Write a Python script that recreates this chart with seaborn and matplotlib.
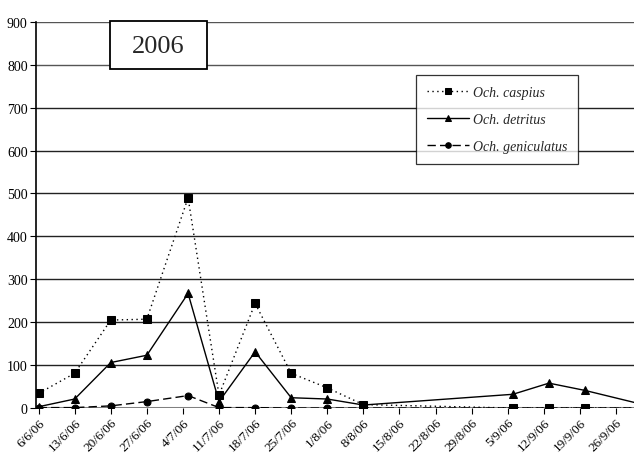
import matplotlib
matplotlib.use("Agg")
import matplotlib.pyplot as plt
import matplotlib.dates as mdates
from matplotlib.patches import Rectangle
import seaborn as sns
import pandas as pd

# Sampling dates (2006) and catches per species
dates = ["2006-06-06", "2006-06-13", "2006-06-20", "2006-06-27", "2006-07-05",
         "2006-07-11", "2006-07-18", "2006-07-25", "2006-08-01", "2006-08-08",
         "2006-09-06", "2006-09-13", "2006-09-20", "2006-10-04"]
caspius = [34, 81, 205, 207, 490, 30, 244, 81, 47, 8, 0, 0, 0, 0]
detritus = [3, 21, 106, 123, 267, 15, 131, 24, 21, 7, 32, 58, 41, 0]
geniculatus = [1, 1, 5, 15, 29, 1, 1, 0, 0, 0, 0, 0, 0, 0]

tick_dates = pd.date_range("2006-06-06", "2006-09-26", freq="7D")
tick_labels = ["6/6/06", "13/6/06", "20/6/06", "27/6/06", "4/7/06", "11/7/06",
               "18/7/06", "25/7/06", "1/8/06", "8/8/06", "15/8/06", "22/8/06",
               "29/8/06", "5/9/06", "12/9/06", "19/9/06", "26/9/06"]
y_ticks = [0, 100, 200, 300, 400, 500, 600, 700, 800, 900]

sns.set_theme(style="white")
plt.rcParams["font.family"] = ["Liberation Serif", "DejaVu Serif"]

df = pd.DataFrame({"date": pd.to_datetime(dates), "caspius": caspius,
                   "detritus": detritus, "geniculatus": geniculatus})

fig = plt.figure(figsize=(6.34, 4.56), dpi=100)
ax = fig.add_axes([0.0568, 0.103, 0.9432, 0.847])

# horizontal grid
for v in y_ticks[1:]:
    ax.axhline(v, color="#222222" if v < 800 else "#555555", lw=1.0, zorder=1)
ax.axhline(0, color="#808080", lw=2.2, zorder=1)

sns.lineplot(data=df, x="date", y="caspius", ax=ax, color="black",
             linestyle=(0, (1, 2.5)), lw=1.0, marker="s", markersize=5.5,
             markeredgecolor="black", label="Och. caspius", zorder=3)
sns.lineplot(data=df, x="date", y="detritus", ax=ax, color="black",
             linestyle="-", lw=1.0, marker="^", markersize=6,
             markeredgecolor="black", label="Och. detritus", zorder=3)
sns.lineplot(data=df, x="date", y="geniculatus", ax=ax, color="black",
             linestyle=(0, (6, 3)), lw=1.0, marker="o", markersize=5,
             markeredgecolor="black", label="Och. geniculatus", zorder=3)

ax.set_xlim(pd.Timestamp("2006-06-05 12:00"), pd.Timestamp("2006-09-29 12:00"))
ax.set_ylim(0, 900)
ax.set_yticks(y_ticks)
ax.set_yticklabels([str(v) for v in y_ticks], fontsize=10)
ax.set_xticks(tick_dates)
ax.set_xticklabels(tick_labels, rotation=45, ha="right", rotation_mode="anchor",
                   fontsize=9.5)
ax.tick_params(axis="x", which="both", bottom=True, length=4, width=0.8,
               direction="out", pad=2, colors="black")
ax.tick_params(axis="y", which="both", left=True, length=4, width=0.8,
               direction="out", pad=2, colors="black")
ax.set_xlabel("")
ax.set_ylabel("")

for side in ["top", "right", "bottom"]:
    ax.spines[side].set_visible(False)
ax.spines["left"].set_color("black")
ax.spines["left"].set_linewidth(1.2)

leg = ax.legend(loc="upper left", bbox_to_anchor=(0.635, 0.863),
                frameon=True, fancybox=False, edgecolor="black",
                prop={"style": "italic", "size": 10}, handlelength=3.0,
                handletextpad=0.3, borderpad=0.8, labelspacing=1.0,
                borderaxespad=0, markerscale=0.8)
leg.get_frame().set_linewidth(0.9)
leg.set_zorder(5)

# year label box
fig.patches.append(Rectangle((110 / 634, 1 - 70 / 456), 97 / 634, 48 / 456,
                             transform=fig.transFigure, facecolor="white",
                             edgecolor="black", lw=1.3, zorder=6))
fig.text(158.5 / 634, 1 - 47 / 456, "2006", fontsize=19, ha="center",
         va="center", zorder=7)

fig.savefig("out.png", dpi=100)
